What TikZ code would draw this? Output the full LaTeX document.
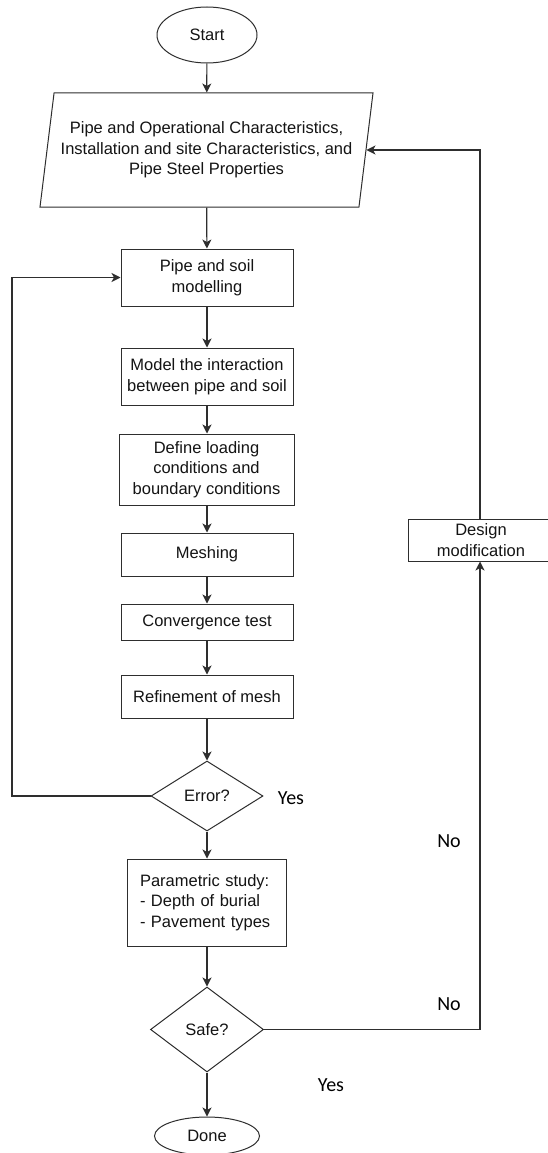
\documentclass[tikz,border=0pt]{standalone}
\usepackage{fontspec}
\setmainfont{Liberation Sans}
\newfontfamily\calfont{Carlito}
\usetikzlibrary{shapes.geometric,arrows.meta}
\definecolor{ln}{HTML}{2E2E2E}
\definecolor{tx}{HTML}{141414}
\begin{document}
\begin{tikzpicture}[x=1pt,y=-1pt,
  every node/.style={font=\fontsize{16.5}{20.5}\selectfont, text=tx},
  base/.style={draw=ln, line width=1pt, inner sep=0pt, align=center},
  procbox/.style={base, rectangle, minimum width=172pt},
  termin/.style={base, ellipse},
  decide/.style={base, diamond, aspect=1.6},
  iobox/.style={base, trapezium, trapezium left angle=76, trapezium right angle=104, trapezium stretches body=true},
  lbl/.style={font=\calfont\fontsize{20}{24}\selectfont, text=black, inner sep=0pt},
  arr/.style={draw=ln, line width=1.2pt, -{Stealth[length=9pt,width=9pt,inset=2.5pt]}},
  ln/.style={draw=ln, line width=1pt}
]
\useasboundingbox[fill=white] (0,0) rectangle (547,1153);

\node[termin, minimum width=100pt, minimum height=56pt] (start) at (207,35) {Start};
\node[iobox, minimum width=333pt, minimum height=114pt] (input) at (206.5,150)
  {Pipe and Operational Characteristics,\\Installation and site Characteristics, and\\Pipe Steel Properties};
\node[procbox, minimum height=57pt] (soil) at (207,277.5) {Pipe and soil\\modelling};
\node[procbox, minimum height=57pt] (interact) at (207,376.5) {Model the interaction\\between pipe and soil};
\node[procbox, minimum width=175pt, minimum height=71pt] (loading) at (206.5,469.5) {Define loading\\conditions and\\boundary conditions};
\node[procbox, minimum height=43pt] (mesh) at (207,554.5) {Meshing};
\node[procbox, minimum height=36pt] (conv) at (207,622) {Convergence test};
\node[procbox, minimum height=43pt] (refine) at (207,696.5) {Refinement of mesh};
\node[decide, minimum width=112pt, minimum height=70pt] (error) at (207,796) {Error?};
\node[base, rectangle, text width=133pt, align=left, inner xsep=13pt, minimum height=87pt] (param) at (206.5,902.5)
  {Parametric study:\\- Depth of burial\\- Pavement types};
\node[decide, minimum width=113pt, minimum height=85pt] (safe) at (207,1029.5) {Safe?};
\node[termin, minimum width=105pt, minimum height=38pt] (done) at (207,1136) {Done};
\node[procbox, minimum width=146pt, minimum height=42pt] (design) at (481,540) {Design\\modification};

\node[lbl] (yes1) at (291,798) {Yes};
\node[lbl] (no1) at (449,841) {No};
\node[lbl] (no2) at (449,1004) {No};
\node[lbl] (yes2) at (331,1085) {Yes};

\coordinate (loopL) at (12,796);
\coordinate (rightL) at (480,1029.5);

\draw[arr] (start) -- (input);
\draw[arr] (input) -- (soil);
\draw[arr] (soil) -- (interact);
\draw[arr] (interact) -- (loading.north -| interact.south);
\draw[arr] (loading.south -| mesh.north) -- (mesh);
\draw[arr] (mesh) -- (conv);
\draw[arr] (conv) -- (refine);
\draw[arr] (refine) -- (error);
\draw[arr] (error) -- (param.north -| error.south);
\draw[arr] (param.south -| safe.north) -- (safe);
\draw[arr] (safe) -- (done);
\draw[arr] (error.west) -- (loopL) |- (soil.west);
\draw[arr] (safe.east) -- (rightL) -- (rightL |- design.south);
\draw[arr] (rightL |- design.north) |- (input.east);
\end{tikzpicture}
\end{document}
